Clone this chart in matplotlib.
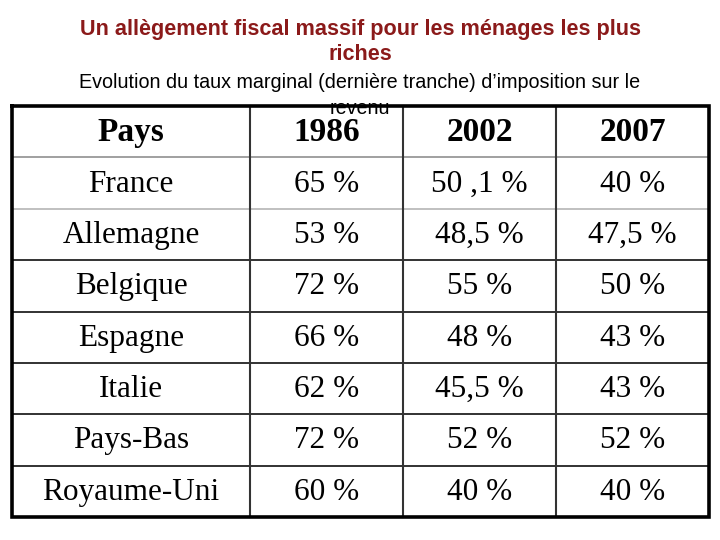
import matplotlib
matplotlib.use("Agg")
import matplotlib.pyplot as plt

title_lines = ["Un allègement fiscal massif pour les ménages les plus", "riches"]
subtitle_lines = ["Evolution du taux marginal (dernière tranche) d\u2019imposition sur le", "revenu"]
headers = ["Pays", "1986", "2002", "2007"]
countries = ["France", "Allemagne", "Belgique", "Espagne", "Italie", "Pays-Bas", "Royaume-Uni"]
v1986 = ["65 %", "53 %", "72 %", "66 %", "62 %", "72 %", "60 %"]
v2002 = ["50 ,1 %", "48,5 %", "55 %", "48 %", "45,5 %", "52 %", "40 %"]
v2007 = ["40 %", "47,5 %", "50 %", "43 %", "43 %", "52 %", "40 %"]

W, H = 720, 540
fig = plt.figure(figsize=(7.2, 5.4), dpi=100)
ax = fig.add_axes([0, 0, 1, 1])
ax.set_xlim(0, W)
ax.set_ylim(H, 0)
ax.axis("off")

# table geometry
left, right, top, bottom = 12, 709, 106, 517
col_x = [left, 250, 403, 556, right]
nrows = len(countries) + 1
row_h = (bottom - top) / nrows
row_y = [top + i * row_h for i in range(nrows + 1)]

hcolors = ["#999999", "#bbbbbb"] + ["#222222"] * 5
for i, y in enumerate(row_y[1:-1]):
    ax.plot([left, right], [y, y], color=hcolors[i], lw=1.3, zorder=2)
for x in col_x[1:-1]:
    ax.plot([x, x], [top, bottom], color="#333333", lw=1.5, zorder=2)
ax.plot([left, right, right, left, left], [top, top, bottom, bottom, top],
        color="black", lw=2.6, zorder=3, solid_joinstyle="miter")

serif = "Liberation Serif"
cols = [countries, v1986, v2002, v2007]
for c in range(4):
    cx = (col_x[c] + col_x[c + 1]) / 2
    ax.text(cx, (row_y[0] + row_y[1]) / 2 + 1, headers[c], ha="center", va="center",
            fontsize=24, fontweight="bold", family=serif, color="black")
    for r, val in enumerate(cols[c]):
        cy = (row_y[r + 1] + row_y[r + 2]) / 2 + 1
        ax.text(cx, cy, val, ha="center", va="center", fontsize=22.5,
                family=serif, color="black")

# titles
ax.text(360, 30, title_lines[0], ha="center", va="center", fontsize=15.6,
        fontweight="bold", family="Liberation Sans", color="#8b1a1a")
ax.text(360, 55, title_lines[1], ha="center", va="center", fontsize=15.6,
        fontweight="bold", family="Liberation Sans", color="#8b1a1a")
ax.text(360, 83, subtitle_lines[0], ha="center", va="center", fontsize=14.2,
        family="Liberation Sans", color="black")
ax.text(360, 108, subtitle_lines[1], ha="center", va="center", fontsize=14.2,
        family="Liberation Sans", color="black", zorder=5)

fig.savefig("out.png", dpi=100)
